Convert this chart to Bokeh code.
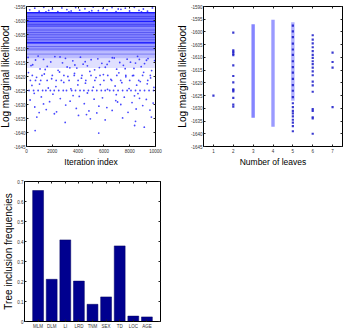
from bokeh.plotting import figure
from bokeh.layouts import column, row
from bokeh.models import FixedTicker, LinearAxis, Range1d
from bokeh.embed import file_html
from bokeh.resources import INLINE

FONT = "Liberation Sans"

# ---------------- Panel 1: MCMC trace ----------------
iter_ticks = [0, 2000, 4000, 6000, 8000, 10000]
iter_tick_labels = ["0", "2000", "4000", "6000", "8000", "10000"]
ll_ticks1 = [-1645, -1640, -1635, -1630, -1625, -1620, -1615, -1610, -1605, -1600, -1595]
ll_tick_labels1 = ["-1645", "-1640", "-1635", "-1630", "-1625", "-1620", "-1615",
                   "-1610", "-1605", "-1600", "-1595"]

# densely visited likelihood bands (lower, upper, relative point density)
band_low = [-1597.6, -1600.0, -1600.5, -1602.5, -1607.6, -1608.3, -1611.0, -1613.5, -1617.0]
band_high = [-1597.0, -1597.6, -1600.0, -1600.5, -1602.5, -1607.6, -1608.3, -1611.0, -1613.5]
band_density = [0.95, 0.62, 0.95, 0.6, 0.5, 0.9, 0.42, 0.28, 0.13]

# frequently revisited levels inside the dense band
stripe_ll = [-1598.6, -1599.3, -1601.4, -1602.0, -1603.4, -1604.3, -1605.1, -1606.0,
             -1606.9, -1609.3, -1610.2, -1612.0]

# individually visible samples (iteration, log marginal likelihood)
trace_iter = [
    250, 640, 980, 1340, 1720, 2010, 2430, 2740, 3130, 3460, 3810, 4120, 4530, 4860,
    5170, 5570, 5920, 6240, 6630, 6940, 7320, 7660, 7990, 8360, 8720, 9060, 9380, 9760,
    1510, 3290, 5060, 7110, 8910,
    120, 480, 700, 1050, 1320, 1610, 1880, 2200, 2450, 2790, 3020, 3360, 3590, 3900,
    4180, 4390, 4720, 5010, 5280, 5530, 5840, 6110, 6420, 6650, 6990, 7230, 7510, 7800,
    8060, 8330, 8610, 8890, 9150, 9420, 9700, 9930, 350, 1450, 2600, 3750, 4550, 5650,
    6800, 7650, 8450, 9300, 900, 3150, 6250, 8750,
    200, 550, 900, 1250, 1500, 1850, 2150, 2500, 2850, 3100, 3500, 3800, 4150, 4450,
    4800, 5100, 5450, 5800, 6100, 6450, 6750, 7100, 7450, 7800, 8100, 8450, 8800, 9150,
    9500, 9850,
    300, 700, 1100, 1600, 2300, 2700, 3300, 4000, 4600, 5300, 6000, 6600, 7300, 8000,
    8700, 9400,
    450, 1200, 2000, 2900, 3700, 4300, 5000, 5700, 6300, 7000, 7700, 8300, 9000, 9600,
    150, 420, 780, 1010, 1380, 1690, 1950, 2280, 2560, 2890, 3210, 3440, 3720, 3980,
    4260, 4570, 4910, 5180, 5390, 5720, 5960, 6280, 6540, 6870, 7160, 7390, 7700, 7950,
    8220, 8540, 8820, 9080, 9360, 9620, 9880, 2050, 4720, 6960, 8640, 600,
    280, 640, 1150, 1530, 1790, 2330, 2620, 3040, 3380, 3860, 4090, 4480, 4840, 5240,
    5610, 5890, 6230, 6640, 6920, 7310, 7580, 7870, 8180, 8500, 8760, 9010, 9290, 9570,
    9820, 1320, 3610, 5450, 7060, 8370, 980,
    800, 2160, 4030, 4650, 4950, 5600, 670, 8380, 8450, 9130, 9680, 6100, 3000, 7450,
]
trace_ll = [
    -1596.2, -1595.6, -1596.7, -1595.3, -1596.4, -1595.9, -1596.8, -1595.5, -1596.1,
    -1596.6, -1595.4, -1596.3, -1595.8, -1596.9, -1595.2, -1596.5, -1595.7, -1596.2,
    -1595.4, -1596.8, -1596.0, -1595.6, -1596.6, -1595.3, -1596.4, -1595.9, -1596.7,
    -1595.5, -1596.9, -1596.9, -1596.5, -1595.9, -1596.9,
    -1613.2, -1615.8, -1614.1, -1617.3, -1613.9, -1616.4, -1614.8, -1612.9, -1617.8,
    -1615.1, -1613.5, -1616.9, -1614.4, -1617.0, -1613.1, -1615.6, -1616.2, -1614.0,
    -1617.6, -1613.7, -1615.3, -1616.7, -1614.6, -1613.3, -1617.4, -1615.0, -1616.0,
    -1613.8, -1614.9, -1617.1, -1612.8, -1616.5, -1615.4, -1613.6, -1617.9, -1614.3,
    -1616.1, -1617.5, -1613.0, -1615.9, -1614.7, -1616.8, -1613.4, -1617.2, -1615.2,
    -1614.2, -1612.7, -1616.6, -1615.7, -1613.9,
    -1625.0, -1625.0, -1625.0, -1625.0, -1625.0, -1625.0, -1625.0, -1625.0, -1625.0,
    -1625.0, -1625.0, -1625.0, -1625.0, -1625.0, -1625.0, -1625.0, -1625.0, -1625.0,
    -1625.0, -1625.0, -1625.0, -1625.0, -1625.0, -1625.0, -1625.0, -1625.0, -1625.0,
    -1625.0, -1625.0, -1625.0,
    -1621.4, -1621.4, -1621.4, -1621.4, -1621.4, -1621.4, -1621.4, -1621.4, -1621.4,
    -1621.4, -1621.4, -1621.4, -1621.4, -1621.4, -1621.4, -1621.4,
    -1619.6, -1619.6, -1619.6, -1619.6, -1619.6, -1619.6, -1619.6, -1619.6, -1619.6,
    -1619.6, -1619.6, -1619.6, -1619.6, -1619.6,
    -1618.6, -1623.2, -1620.3, -1622.7, -1619.1, -1624.1, -1620.8, -1623.6, -1618.4,
    -1622.1, -1620.0, -1624.4, -1618.9, -1623.0, -1620.6, -1622.4, -1618.2, -1623.8,
    -1620.4, -1622.9, -1619.3, -1624.6, -1621.0, -1623.4, -1618.7, -1622.2, -1620.1,
    -1624.3, -1619.7, -1623.1, -1621.8, -1618.5, -1622.6, -1620.5, -1623.9, -1626.3,
    -1625.9, -1626.5, -1626.1, -1626.0,
    -1628.4, -1630.9, -1627.3, -1631.8, -1629.0, -1632.6, -1627.9, -1630.2, -1628.8,
    -1631.4, -1627.1, -1629.7, -1632.3, -1628.1, -1630.6, -1627.6, -1631.1, -1632.1,
    -1628.6, -1630.0, -1627.4, -1632.8, -1629.3, -1631.6, -1627.8, -1630.4, -1628.2,
    -1632.0, -1629.5, -1629.8, -1626.8, -1633.0, -1629.1, -1626.9, -1632.9,
    -1634.5, -1633.3, -1633.9, -1633.6, -1635.1, -1640.2, -1639.3, -1637.5, -1636.0,
    -1638.1, -1634.5, -1635.5, -1636.4, -1634.8,
]

# ---------------- Panel 2: likelihood vs number of leaves ----------------
leaf_ticks = [1, 2, 3, 4, 5, 6, 7]
leaf_tick_labels = ["1", "2", "3", "4", "5", "6", "7"]
ll_ticks2 = [-1645, -1640, -1635, -1630, -1625, -1620, -1615, -1610, -1605, -1600,
             -1595, -1590]
ll_tick_labels2 = ["-1645", "-1640", "-1635", "-1630", "-1625", "-1620", "-1615",
                   "-1610", "-1605", "-1600", "-1595", "-1590"]

# continuously occupied likelihood ranges per tree size
span_leaves = [3, 4, 5]
span_top = [-1597.0, -1595.2, -1596.2]
span_bottom = [-1633.7, -1637.2, -1627.0]
span_density = [0.55, 0.45, 0.35]

# isolated samples
leaf_pts = ([1] + [2] * 14 + [5] * 22 + [6] * 20 + [7] * 4)
leaf_ll = ([-1625.0] +
           [-1600.3, -1607.2, -1607.8, -1608.5, -1609.1, -1613.1, -1617.3, -1619.8,
            -1622.5, -1622.9, -1623.4, -1625.9, -1628.5, -1629.3] +
           [-1597.5, -1599.8, -1602.0, -1604.6, -1606.9, -1609.0, -1611.5, -1613.8,
            -1616.0, -1618.4, -1620.9, -1623.1, -1625.6, -1628.0, -1629.5, -1631.0,
            -1632.0, -1633.2, -1634.5, -1635.6, -1637.0, -1639.0] +
           [-1601.3, -1603.0, -1604.5, -1606.0, -1607.5, -1609.0, -1610.2, -1611.5,
            -1612.6, -1614.0, -1615.5, -1617.0, -1619.5, -1621.0, -1623.5, -1630.3,
            -1631.0, -1633.5, -1634.0, -1640.0] +
           [-1608.1, -1611.8, -1614.0, -1629.5])

# ---------------- Panel 3: inclusion frequencies ----------------
features = ["MLM", "DLM", "LI", "LRD", "TNM", "SEX", "TD", "LOC", "AGE"]
inclusion = [0.655, 0.211, 0.408, 0.202, 0.086, 0.123, 0.378, 0.027, 0.023]
freq_ticks = [0, 0.1, 0.2, 0.3, 0.4, 0.5, 0.6, 0.7]
freq_tick_labels = ["0", "0.1", "0.2", "0.3", "0.4", "0.5", "0.6", "0.7"]


def style_axes(p, xt, xl, yt, yl, xlabel=None, ylabel=None, ylabel_size="10px"):
    p.xgrid.visible = False
    p.ygrid.visible = False
    p.outline_line_color = "black"
    p.outline_line_width = 1
    p.background_fill_color = "white"
    p.border_fill_color = "white"
    xa, ya = p.xaxis[0], p.yaxis[0]
    xa.ticker = FixedTicker(ticks=xt, minor_ticks=[])
    ya.ticker = FixedTicker(ticks=yt, minor_ticks=[])
    xa.major_label_overrides = dict(zip(xt, xl))
    ya.major_label_overrides = dict(zip(yt, yl))
    for ax in (xa, ya):
        ax.major_tick_in = 2
        ax.major_tick_out = 0
        ax.minor_tick_in = 0
        ax.minor_tick_out = 0
        ax.axis_line_color = "black"
        ax.major_tick_line_color = "#222222"
        ax.major_label_text_font = FONT
        ax.major_label_text_font_size = "4.5px"
        ax.major_label_text_color = "#333333"
        ax.major_label_standoff = 2
        ax.axis_label_text_font_style = "normal"
        ax.axis_label_text_color = "black"
        ax.axis_label_standoff = 1
    ya.major_label_standoff = 1
    if xlabel:
        xa.axis_label = xlabel
        xa.axis_label_text_font = FONT
        xa.axis_label_text_font_size = "8.5px"
    if ylabel:
        ya.axis_label = ylabel
        ya.axis_label_text_font = FONT
        ya.axis_label_text_font_size = ylabel_size
        ya.axis_label_standoff = 0
    # box ticks on the right and top
    for loc, t in (("right", yt), ("above", xt)):
        ax = LinearAxis(ticker=FixedTicker(ticks=t, minor_ticks=[]),
                        major_label_overrides={k: "" for k in t},
                        major_label_text_font_size="0px", major_label_standoff=0,
                        major_tick_in=2, major_tick_out=0, minor_tick_in=0,
                        minor_tick_out=0, axis_line_color="black",
                        major_tick_line_color="#222222")
        p.add_layout(ax, loc)


# ---- figure 1
p1 = figure(width=176, height=170, x_range=Range1d(0, 10000),
            y_range=Range1d(-1645, -1595), output_backend="svg",
            toolbar_location=None, min_border_left=27, min_border_right=17,
            min_border_top=6, min_border_bottom=24, margin=(0, 0, 0, -4))
p1.quad(left=[0] * len(band_low), right=[10000] * len(band_low),
        bottom=band_low, top=band_high, fill_color="#1010ff",
        fill_alpha=band_density, line_color=None)
p1.segment(x0=[0] * len(stripe_ll), x1=[10000] * len(stripe_ll), y0=stripe_ll,
           y1=stripe_ll, line_color="#0000dd", line_width=1, line_alpha=0.35)
p1.scatter(trace_iter, trace_ll, size=1.8, fill_color="#1a1aff", line_color=None,
           fill_alpha=0.8)
style_axes(p1, iter_ticks, iter_tick_labels, ll_ticks1, ll_tick_labels1,
           xlabel="Iteration index", ylabel="Log marginal likelihood")

# ---- figure 2
p2 = figure(width=174, height=170, x_range=Range1d(0.5, 7.5),
            y_range=Range1d(-1645, -1590), output_backend="svg",
            toolbar_location=None, min_border_left=31, min_border_right=4,
            min_border_top=6, min_border_bottom=24)
p2.vbar(x=span_leaves, bottom=span_bottom, top=span_top, width=0.17,
        fill_color="#2020ff", fill_alpha=span_density, line_color=None)
p2.scatter(leaf_pts, leaf_ll, size=2.2, marker="square", fill_color="#1818c8",
           line_color=None, fill_alpha=0.85)
style_axes(p2, leaf_ticks, leaf_tick_labels, ll_ticks2, ll_tick_labels2,
           xlabel="Number of leaves", ylabel="Log marginal likelihood")

# ---- figure 3
pos = list(range(1, len(features) + 1))
p3 = figure(width=175, height=166, x_range=Range1d(0, 10), y_range=Range1d(0, 0.7),
            output_backend="svg", toolbar_location=None, min_border_left=20,
            min_border_right=15, min_border_top=11, min_border_bottom=15)
p3.vbar(x=pos, top=inclusion, bottom=0, width=0.8, fill_color="#00008f",
        line_color="#000060", line_width=0.5)
style_axes(p3, pos, features, freq_ticks, freq_tick_labels,
           ylabel="Tree inclusion frequencies", ylabel_size="10px")

layout = column(row(p1, p2), p3)
open("out.html", "w").write(file_html(layout, INLINE))
